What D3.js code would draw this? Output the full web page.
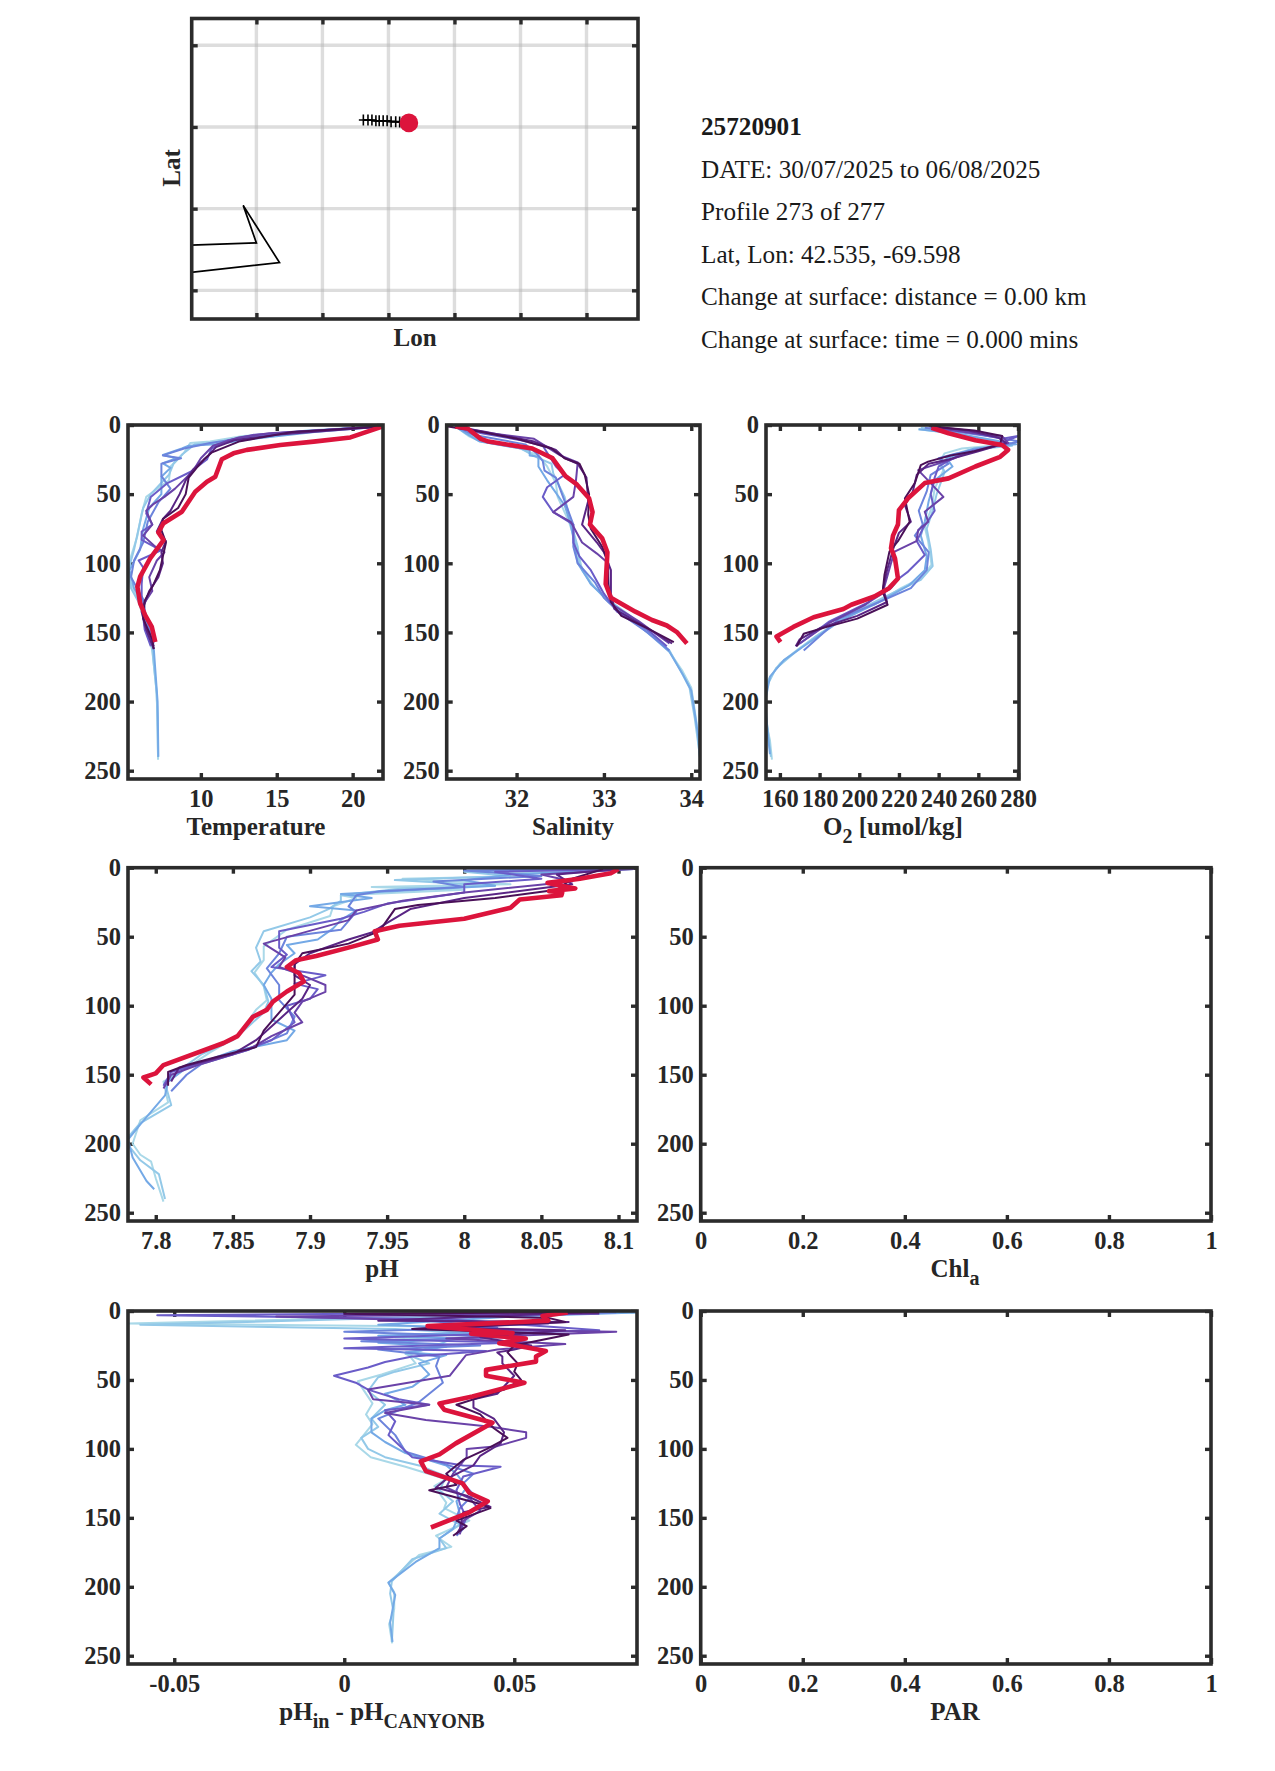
<!DOCTYPE html>
<html>
<head>
<meta charset="UTF-8">
<title>25720901</title>
<style>
    body { margin: 0; background: #fff; }
    text { font-family: "Liberation Serif", serif; }
    .tick text, .label { font-weight: bold; fill: #262626; }
    .tick text { font-size: 24.5px; }
    .label { font-size: 25px; text-anchor: middle; }
    .info { font-size: 25.2px; fill: #1a1a1a; }
</style>
<script src="https://d3js.org/d3.v7.min.js"></script>
</head>
<body>
<script>
// float info
var infoLines = ["25720901", "DATE: 30/07/2025 to 06/08/2025", "Profile 273 of 277", "Lat, Lon: 42.535, -69.598",
    "Change at surface: distance = 0.00 km", "Change at surface: time = 0.000 mins"];

// map
var lonTicks = [-69.829, -69.729, -69.629, -69.529, -69.429, -69.329];
var latTicks = [42.63, 42.53, 42.43, 42.33];
var coastLine = [[-69.94, 42.385], [-69.829, 42.388], [-69.849, 42.434], [-69.794, 42.364], [-69.94, 42.351]];
var trackLon = [-69.667, -69.66, -69.654, -69.648, -69.643, -69.637, -69.631, -69.625, -69.618, -69.612, -69.598];
var trackLat = [42.5385, 42.5385, 42.5385, 42.5375, 42.5375, 42.5375, 42.5375, 42.5365, 42.5365, 42.536, 42.535];
var floatPos = [-69.598, 42.535];

var profileColors = ["#a9d8e8", "#93c9e8", "#74a9e6", "#6c84dc", "#6a5cc8", "#6a42a8", "#5a2585", "#4a1058"];

// each profile is a list of [value, depth], lightest (oldest) first
var tempProfiles = [
    [[21.5,1],[16.5,5],[12.8,8],[10.6,12],[9.3,13],[8.9,20],[8,30],[7.9,40],[6.4,52],[6.1,64],[5.8,81],[5.4,95],[5.2,110],[5.8,124],[6.2,139],[6.8,163],[7.05,189],[7.15,210],[7.18,242]],
    [[21.8,1],[17,4],[13,9],[10.8,13],[9.6,14],[8.8,21],[8.2,28],[7.9,36],[6.7,50],[6.2,60],[5.9,75],[5.6,90],[5.25,104],[5.4,118],[5.9,128],[6.4,142],[6.8,162],[7.1,195],[7.18,240]],
    [[21.9,1],[17.5,5],[13.5,10],[11,14],[9.2,15],[8.75,17],[7.5,21.7],[8.4,24],[7.5,27.7],[8,31],[7.4,37.4],[7.4,50],[6.6,60],[6.2,75],[6,90],[5.3,105],[5.6,118],[6,125],[6.3,140],[6.9,162],[7.15,200],[7.2,240]],
    [[21.5,1],[15,6],[12.5,10],[10.6,13],[8.9,17],[7.5,22],[8.7,24],[7.4,28],[7.4,37],[8,46],[7.2,56],[6.5,70],[6.2,85],[5.6,98],[5.4,110],[6.2,126],[6.4,140],[6.9,158]],
    [[21.7,1],[13.5,7],[11.8,11],[10.7,17],[10.4,25],[9.3,34],[7.8,42],[6.7,52],[6.4,64],[6.8,72],[6.1,77],[6.1,83],[7.1,89],[7.3,91],[5.9,98],[6.2,103],[6.1,115],[6.1,129],[6.3,148],[6.7,160]],
    [[21.9,1],[14.5,6],[12.5,9],[10.8,15],[10,24],[9.5,33],[8.3,46],[7.6,52],[6.9,57],[6.4,62],[6.8,72],[6.2,80],[7,88],[7.6,92],[7.1,98],[6.6,110],[6.8,120],[6.2,130],[6.3,145],[6.9,160]],
    [[22,1],[15,7],[12.2,11],[11,16],[10.5,22],[9.5,32],[9,40],[8.6,50],[8,62],[7.5,68],[7.1,77],[7.7,84],[7.4,92],[7.5,100],[7.2,110],[6.6,120],[6.1,135],[6.4,148],[6.9,162]],
    [[22,1],[16,5],[12.5,12],[10.7,20],[10.2,25],[9.8,30],[9.2,38],[9,50],[8.5,60],[7.5,68],[7.4,76],[7.7,85],[7.5,95],[7.3,105],[6.9,115],[6.3,127],[6.2,140],[6.8,155],[6.9,162]]
];
var tempCurrent = [[22,1],[19.85,9],[17.43,12],[15.23,14.5],[13.03,18],[12.15,20.5],[11.38,24.8],[10.95,37.4],[10.4,41],[9.63,48.2],[8.75,62.7],[7.54,71],[7.2,77.7],[7.54,83.2],[6.66,96.5],[6,109.7],[5.82,117],[6,129],[6.33,137.5],[6.77,146],[7,157]];

var salProfiles = [
    [[31.3,1],[31.45,8],[31.55,11],[32,16],[32.25,22],[32.35,30],[32.45,42],[32.47,52],[32.6,70],[32.7,90],[32.75,105],[32.9,118],[33.05,128],[33.3,140],[33.6,155],[33.75,164],[33.9,178],[34,190],[34.06,215],[34.1,242]],
    [[31.3,1],[31.5,8],[31.6,12],[32.05,17],[32.25,24],[32.4,28],[32.42,35],[32.55,52],[32.62,70],[32.7,88],[32.72,100],[32.85,115],[33.02,125],[33.3,138],[33.55,152],[33.75,163],[33.88,178],[33.98,190],[34.04,212],[34.1,240]],
    [[31.3,1],[31.42,6],[31.58,12],[32.15,18],[32.15,22],[32.25,23],[32.25,30],[32.35,40],[32.55,58],[32.62,72],[32.67,88],[32.7,100],[32.85,115],[33,124],[33.25,137],[33.55,153],[33.75,164],[33.9,180],[34,192],[34.08,225],[34.1,240]],
    [[31.3,1],[31.5,7],[32.1,14],[32.22,20],[32.3,26],[32.32,33],[32.45,38],[32.55,55],[32.65,72],[32.65,88],[32.7,100],[32.9,114],[33,125],[33.2,137],[33.5,150],[33.75,163]],
    [[31.3,1],[31.6,6],[32.05,11],[32.3,15],[32.45,30],[32.55,36],[32.35,45],[32.3,52],[32.42,63],[32.55,68],[32.65,72],[32.65,85],[32.72,95],[32.85,105],[33,122],[33.15,135],[33.5,148],[33.72,160]],
    [[31.3,1],[31.7,6],[32.2,10],[32.35,16],[32.5,22],[32.7,27],[32.68,40],[32.65,52],[32.42,63],[32.62,70],[32.75,85],[32.92,93],[33.05,100],[33.05,118],[33.1,130],[33.4,142],[33.75,158]],
    [[31.3,1],[31.65,5],[32.2,12],[32.45,18],[32.55,24],[32.7,28],[32.8,38],[32.82,55],[32.75,72],[32.92,85],[33,92],[33.08,105],[33.08,122],[33.12,133],[33.45,145],[33.78,158]],
    [[31.2,1],[31.6,5],[32,10],[32.4,17],[32.55,24],[32.72,28],[32.78,36],[32.83,50],[32.82,65],[32.85,75],[32.98,88],[33.04,98],[33.05,115],[33.08,128],[33.2,138],[33.5,147],[33.8,157]]
];
var salCurrent = [[31.3,1],[31.44,2.5],[31.59,10],[31.68,12],[32.18,17],[32.41,24],[32.56,37],[32.69,43],[32.83,53],[32.87,63],[32.84,72],[32.98,82],[33.04,92],[33.02,115],[33.08,125],[33.36,135],[33.55,141],[33.72,145],[33.84,150],[33.95,158]];

var oxyProfiles = [
    [[229.7,3],[241.5,5],[258.5,10],[275.4,14],[251.7,17],[243,20.5],[240,28],[242.4,32.6],[238,46],[236.4,60],[233,73.6],[234.7,84],[236.4,101],[232,110],[221,118],[207.6,130],[199,134],[180,151],[168.5,163],[160,172.5],[154,184.5],[152.4,198],[153,215],[155,228],[156,242]],
    [[231,2],[245,5],[262,10],[277,15],[255,18],[246,22],[241,28],[243,34],[239,50],[237,62],[234,75],[236,90],[237,102],[231,112],[219,120],[205,130],[195,137],[178,153],[168,164],[158,176],[153,190],[152.5,205],[154,222],[155.5,240]],
    [[230,3],[248,6],[268,11],[279,14],[258,17],[244,24],[247,30],[238,40],[235,55],[233,70],[231,80],[234,95],[233,105],[225,116],[210,128],[190,142],[172,160],[162,170],[155,182],[152.6,200],[154,225],[155,238]],
    [[233,2],[250,5],[270,9],[281,12],[262,17],[248,21],[240,24],[245,28],[236,36],[234,48],[230,62],[232,72],[228,80],[235,92],[234,105],[226,118],[210,128],[190,140],[172,163]],
    [[235,1],[255,5],[272,10],[280,8],[268,15],[250,22],[240,30],[238,38],[236,50],[238,62],[232,75],[229,84],[233,94],[224.6,106],[220,111],[216,118],[205,128],[185,142],[170,158]],
    [[238,2],[258,6],[272,8],[275,13],[255,20],[248,24],[229.7,32.6],[236,42],[242.4,52],[233,62.7],[234.8,70],[229.7,76],[228.8,84],[217.8,91.6],[216,100],[214,110],[212,120],[203,130],[185,143],[168,160]],
    [[237,1],[255,4],[270,9],[274,13],[260,19],[245,25],[235,28],[229,36],[227,48],[223,58],[226,70],[220,78],[217,90],[214,105],[212,118],[214,128],[199,138],[180,147],[170,155],[168,160]],
    [[236,1],[258,4],[272,8],[271,14],[258,19],[246,22],[234.7,26.5],[231,29],[228,42],[223,53],[225.4,70],[219.5,84],[215.2,91.6],[212.7,108.5],[211.8,120.6],[214.3,130],[199,140],[183.7,146],[172,151],[168.5,160]]
];
var oxyCurrent = [[236.4,2],[245,6],[258.5,11],[272,14.5],[275,18],[271,23],[258.5,30],[245,38.6],[233,42],[224.6,53],[220,61.5],[219.5,72],[217,80],[216,89],[218,96.5],[219.5,111],[215,118],[207.6,124],[196,130],[192,133],[177,139],[166.8,146],[158.3,153],[160.3,157]];

var phProfiles = [
    [[8.11,1],[8.02,4],[8.05,6],[7.96,8],[8.03,12],[7.94,14],[8,16],[7.92,20],[7.93,22],[7.915,28],[7.913,35],[7.885,45],[7.87,57],[7.87,67],[7.864,76],[7.87,86],[7.872,96],[7.865,103],[7.859,112.6],[7.853,122],[7.835,134],[7.82,145],[7.805,155],[7.808,170],[7.79,183],[7.785,200],[7.79,208],[7.797,213],[7.8,225],[7.805,242]],
    [[8.1,1],[8,3],[8.03,6],[7.955,9],[8.02,13],[7.96,15],[7.92,20],[7.92,24],[7.912,30],[7.9,36],[7.87,46],[7.865,58],[7.868,68],[7.862,75],[7.87,85],[7.873,97],[7.87,105],[7.862,113],[7.85,125],[7.83,135],[7.815,147],[7.806,156],[7.81,172],[7.79,185],[7.78,198],[7.79,212],[7.802,222],[7.806,240]],
    [[8.11,1],[8.03,5],[8,9],[8.02,13],[7.92,19],[7.94,22],[7.9,28],[7.93,31],[7.92,38],[7.915,44],[7.905,52],[7.885,56],[7.89,62],[7.88,70],[7.875,76],[7.87,85],[7.875,95],[7.875,110],[7.89,118],[7.885,125],[7.85,133],[7.82,145],[7.808,155],[7.806,165],[7.79,186],[7.782,197],[7.785,210],[7.794,227],[7.799,233]],
    [[8.1,1],[8,2],[8.05,6],[7.98,10],[8,14],[7.945,17],[7.93,20],[7.925,28],[7.93,32],[7.92,45],[7.885,50],[7.88,62],[7.872,73],[7.88,85],[7.88,96],[7.89,108],[7.885,120],[7.86,132],[7.83,142],[7.82,150],[7.81,162]],
    [[8.1,1],[8.02,3],[8.05,8],[8,12],[8,18],[7.95,26],[7.935,32],[7.92,37],[7.88,46],[7.88,58],[7.885,63],[7.875,72],[7.905,77],[7.91,78],[7.89,84],[7.905,88],[7.9,95],[7.885,100],[7.89,112],[7.875,125],[7.85,135],[7.81,148],[7.805,158]],
    [[8.11,1],[8.05,5],[8.07,10],[8,18],[7.96,24],[7.93,31],[7.925,38],[7.87,55],[7.884,65],[7.88,72],[7.895,78],[7.91,85],[7.91,90],[7.895,97],[7.89,105],[7.895,112],[7.875,122],[7.86,132],[7.83,142],[7.81,150],[7.805,160]],
    [[8.1,1],[8.06,5],[8.07,12],[8,22],[7.965,30],[7.95,40],[7.94,47],[7.925,52],[7.9,62],[7.89,70],[7.89,78],[7.9,85],[7.895,95],[7.885,105],[7.875,115],[7.865,125],[7.85,135],[7.815,145],[7.81,155]],
    [[8.09,1],[8.07,8],[8.06,16],[8.02,22],[7.97,27],[7.955,30],[7.95,38],[7.945,46],[7.925,55],[7.895,62],[7.89,70],[7.89,82],[7.89,92],[7.88,105],[7.87,118],[7.865,130],[7.84,137],[7.82,143],[7.808,148],[7.808,158]]
];
var phCurrent = [[8.1,1],[8.095,4],[8.075,8],[8.054,11],[8.072,15],[8.055,17],[8.0635,18],[8.063,20],[8.036,23],[8.03,29],[8,37],[7.958,42],[7.942,46],[7.944,52],[7.928,57],[7.904,64],[7.891,67],[7.885,72],[7.893,76.5],[7.896,82.5],[7.885,89.7],[7.876,97],[7.872,103],[7.863,108],[7.858,115],[7.853,122],[7.844,127],[7.805,143],[7.8,149],[7.792,152],[7.797,157]];

var dphProfiles = [
    [[0.086,1],[0.04,3],[-0.064,9],[0.02,11],[0.05,15],[0.015,19],[0.03,22],[0.019,32],[0.021,38],[0.011,46],[0.004,51],[0.0083,67],[0.0064,75],[0.0083,82],[0.0034,97],[0.0078,106],[0.018,113],[0.03,122],[0.0265,127],[0.03,139],[0.0294,143],[0.0368,152],[0.027,163],[0.0285,166],[0.0315,171],[0.022,177],[0.013,197],[0.0147,204],[0.0147,216],[0.0132,227],[0.0141,241]],
    [[0.08,1],[0.03,4],[-0.06,10],[0.015,13],[0.045,17],[0.03,21],[0.028,26],[0.018,31],[0.025,38],[0.015,44],[0.01,48],[0.007,58],[0.012,68],[0.008,78],[0.01,84],[0.005,92],[0.007,100],[0.012,106],[0.022,112],[0.03,120],[0.028,130],[0.032,138],[0.028,147],[0.034,155],[0.028,165],[0.03,172],[0.02,180],[0.014,196],[0.0135,205],[0.0145,218],[0.014,240]],
    [[0.086,1],[0.05,4],[0.01,10],[0.055,14],[0.01,18],[0.035,20],[0.01,23],[0.03,26],[0.018,30],[0.03,32],[0.022,38],[0.025,46],[0.02,55],[0.012,60],[0.018,68],[0.012,72],[0.008,78],[0.008,88],[0.012,95],[0.018,103],[0.03,112],[0.033,118],[0.036,128],[0.033,138],[0.034,147],[0.032,158],[0.028,165],[0.028,172],[0.021,182],[0.013,197],[0.015,206],[0.0135,226],[0.0142,240]],
    [[0.08,1],[0.02,6],[0.045,12],[0,15],[0.05,19],[0.005,22],[0.04,25],[0.01,28],[0.028,33],[0.027,40],[0.029,52],[0.024,62],[0.022,66],[0.01,78],[0.015,90],[0.018,102],[0.026,108],[0.038,118],[0.035,125],[0.038,133],[0.034,143],[0.033,150],[0.035,158],[0.033,163]],
    [[0.07,1],[-0.055,3],[0.03,6],[0.075,14],[0,20],[0.05,23],[0,27],[0.0417,29],[0.02,33],[0.012,37],[0.007,41],[-0.003,47],[0.0034,52],[0.007,57],[0.016,64],[0.025,68],[0.012,72],[0.015,80],[0.013,90],[0.016,97],[0.02,106],[0.035,112],[0.046,113],[0.035,120],[0.033,130],[0.034,140],[0.036,150],[0.034,160]],
    [[0.075,2],[-0.02,4],[0.06,9],[0.02,13],[0.08,15],[0.03,20],[0.065,24],[0.045,28],[0.0358,32],[0.031,47],[0.007,57],[0.0085,64],[0.025,68],[0.012,74],[0.024,79],[0.043,84],[0.0535,88],[0.0535,92],[0.045,98],[0.036,100],[0.036,106],[0.032,118],[0.03,128],[0.037,136],[0.04,145],[0.035,152],[0.034,162]],
    [[0.07,1],[0.05,3],[0.01,7],[0.066,8],[0.03,12],[0.065,14],[0.04,19],[0.055,25],[0.05,28],[0.045,30],[0.0465,33],[0.0465,38],[0.05,47],[0.048,52],[0.045,60],[0.038,64],[0.038,70],[0.044,78],[0.047,88],[0.046,96],[0.04,105],[0.038,112],[0.03,122],[0.027,128],[0.036,134],[0.043,142],[0.035,146],[0.034,158],[0.033,162]],
    [[0.075,1],[0,2],[0.06,5],[0.065,8],[0.02,13],[0.066,17],[0.05,25],[0.048,30],[0.051,38],[0.05,44],[0.052,50],[0.047,57],[0.033,68],[0.04,75],[0.044,85],[0.048,92],[0.042,100],[0.035,108],[0.03,118],[0.033,126],[0.025,130],[0.04,140],[0.043,143],[0.033,152],[0.036,156],[0.032,163]]
];
var dphCurrent = [[0.0657,1],[0.0583,3.6],[0.06,7],[0.0245,11],[0.0397,14],[0.0495,16],[0.0373,16.5],[0.0534,20],[0.0456,23.4],[0.0505,25],[0.0593,29],[0.0564,33],[0.0564,36.7],[0.0417,42.7],[0.0417,47],[0.053,52],[0.0377,62],[0.028,67],[0.0294,71.6],[0.0436,81],[0.0328,96],[0.028,104],[0.0225,109],[0.024,116],[0.0348,125],[0.0368,132],[0.0422,138],[0.0368,146],[0.0255,157]];

// axis ranges and ticks
var depthMax = 256;
var depthTicks = [0, 50, 100, 150, 200, 250];
var tempDomain = [5.2, 22], tempTicks = [10, 15, 20];
var salDomain = [31.2, 34.1], salTicks = [32, 33, 34];
var oxyDomain = [153, 280.5], oxyTicks = [160, 180, 200, 220, 240, 260, 280];
var phDomain = [7.782, 8.112], phTicks = [7.8, 7.85, 7.9, 7.95, 8, 8.05, 8.1];
var dphDomain = [-0.0636, 0.0861], dphTicks = [-0.05, 0, 0.05];
var emptyDomain = [0, 1], emptyTicks = [0, 0.2, 0.4, 0.6, 0.8, 1];

var axisColor = "#2b2b2b", currentColor = "#dc143c";

var svg = d3.select("body").append("svg")
    .attr("width", 1275)
    .attr("height", 1771);

var clipCount = 0;

// box with inward ticks on all sides
function makeBox(box, x, y, xTicks, yTicks, xFormat, yFormat) {
    var g = svg.append("g");
    var w = box.right - box.left, h = box.bottom - box.top;

    var id = "clip" + (clipCount++);
    svg.append("clipPath").attr("id", id).append("rect")
        .attr("x", box.left).attr("y", box.top).attr("width", w).attr("height", h);

    g.append("g").attr("transform", "translate(0," + box.bottom + ")")
        .call(d3.axisBottom(x).tickValues(xTicks).tickSize(-6).tickPadding(11).tickFormat(xFormat));
    g.append("g").attr("transform", "translate(0," + box.top + ")")
        .call(d3.axisTop(x).tickValues(xTicks).tickSize(-6).tickFormat(""));
    g.append("g").attr("transform", "translate(" + box.left + ",0)")
        .call(d3.axisLeft(y).tickValues(yTicks).tickSize(-6).tickPadding(7).tickFormat(yFormat));
    g.append("g").attr("transform", "translate(" + box.right + ",0)")
        .call(d3.axisRight(y).tickValues(yTicks).tickSize(-6).tickFormat(""));

    g.selectAll(".domain").remove();
    g.selectAll(".tick line").attr("stroke", axisColor).attr("stroke-width", 3.4);

    return {g: g, clip: id, box: box};
}

function drawFrame(box) {
    svg.append("rect")
        .attr("x", box.left).attr("y", box.top)
        .attr("width", box.right - box.left).attr("height", box.bottom - box.top)
        .attr("fill", "none").attr("stroke", axisColor).attr("stroke-width", 3.6);
}

function profilePanel(box, domain, xTicks, profiles, current) {
    var x = d3.scaleLinear().domain(domain).range([box.left, box.right]);
    var y = d3.scaleLinear().domain([0, depthMax]).range([box.top, box.bottom]);
    var p = makeBox(box, x, y, xTicks, depthTicks, function(d) { return d; }, function(d) { return d; });

    var line = d3.line()
        .x(function(d) { return x(d[0]); })
        .y(function(d) { return y(d[1]); });

    var lines = svg.append("g").attr("clip-path", "url(#" + p.clip + ")");

    lines.selectAll(".profile")
        .data(profiles)
        .enter().append("path")
            .attr("class", "profile")
            .attr("d", line)
            .attr("fill", "none")
            .attr("stroke", function(d, i) { return profileColors[i]; })
            .attr("stroke-width", 2)
            .attr("stroke-linejoin", "round");

    if (current) {
        lines.append("path")
            .attr("d", line(current))
            .attr("fill", "none")
            .attr("stroke", currentColor)
            .attr("stroke-width", 4.6)
            .attr("stroke-linejoin", "round");
    }
    drawFrame(box);
}

function addLabel(x, y, parts) {
    // parts: plain strings, or [string] for a subscript
    var t = svg.append("text").attr("class", "label").attr("x", x).attr("y", y);
    var low = false;
    parts.forEach(function(part) {
        var sub = Array.isArray(part);
        t.append("tspan")
            .attr("dy", sub === low ? 0 : (sub ? 8 : -8))
            .style("font-size", sub ? "20px" : null)
            .text(sub ? part[0] : part);
        low = sub;
    });
}

// map panel
var mapBox = {left: 191.7, right: 638, top: 18.5, bottom: 319};
var mapX = d3.scaleLinear().domain([-69.927, -69.251]).range([mapBox.left, mapBox.right]);
var mapY = d3.scaleLinear().domain([42.6628, 42.2949]).range([mapBox.top, mapBox.bottom]);

var gridG = svg.append("g");
gridG.selectAll(".vgrid").data(lonTicks).enter().append("line")
    .attr("x1", function(d) { return mapX(d); }).attr("x2", function(d) { return mapX(d); })
    .attr("y1", mapBox.top).attr("y2", mapBox.bottom);
gridG.selectAll(".hgrid").data(latTicks).enter().append("line")
    .attr("y1", function(d) { return mapY(d); }).attr("y2", function(d) { return mapY(d); })
    .attr("x1", mapBox.left).attr("x2", mapBox.right);
gridG.selectAll("line").attr("stroke", "#b4b4b4").attr("stroke-opacity", 0.45).attr("stroke-width", 3.4);

var mapAxes = makeBox(mapBox, mapX, mapY, lonTicks, latTicks, function() { return ""; }, function() { return ""; });

var mapLine = d3.line()
    .x(function(d) { return mapX(d[0]); })
    .y(function(d) { return mapY(d[1]); });

var mapG = svg.append("g").attr("clip-path", "url(#" + mapAxes.clip + ")");
mapG.append("path")
    .attr("d", mapLine(coastLine))
    .attr("fill", "none")
    .attr("stroke", "#000")
    .attr("stroke-width", 1.7);

var track = trackLon.map(function(d, i) { return [d, trackLat[i]]; });
mapG.append("path")
    .attr("d", mapLine(track))
    .attr("fill", "none")
    .attr("stroke", "#000")
    .attr("stroke-width", 1.7);
mapG.selectAll(".plus")
    .data(track)
    .enter().append("path")
        .attr("class", "plus")
        .attr("d", function(d) {
            var px = mapX(d[0]), py = mapY(d[1]);
            return "M" + (px - 4.5) + "," + py + "L" + (px + 4.5) + "," + py + "M" + px + "," + (py - 5.5) + "L" + px + "," + (py + 5.5);
        })
        .attr("stroke", "#000")
        .attr("stroke-width", 1.6);
mapG.append("circle")
    .attr("cx", mapX(floatPos[0]))
    .attr("cy", mapY(floatPos[1]))
    .attr("r", 9.3)
    .attr("fill", currentColor);
drawFrame(mapBox);

addLabel(415, 346, ["Lon"]);
svg.append("text").attr("class", "label")
    .attr("transform", "translate(180,168) rotate(-90)")
    .text("Lat");

// text block
svg.selectAll(".info")
    .data(infoLines)
    .enter().append("text")
        .attr("class", "info")
        .attr("x", 701)
        .attr("y", function(d, i) { return 135 + i * 42.6; })
        .style("font-weight", function(d, i) { return i === 0 ? "bold" : "normal"; })
        .text(function(d) { return d; });

// profile panels
profilePanel({left: 128, right: 383, top: 425, bottom: 779}, tempDomain, tempTicks, tempProfiles, tempCurrent);
addLabel(256, 835, ["Temperature"]);

profilePanel({left: 446.7, right: 700, top: 425, bottom: 779}, salDomain, salTicks, salProfiles, salCurrent);
addLabel(573, 835, ["Salinity"]);

profilePanel({left: 766, right: 1019, top: 425, bottom: 779}, oxyDomain, oxyTicks, oxyProfiles, oxyCurrent);
addLabel(893, 835, ["O", ["2"], " [umol/kg]"]);

profilePanel({left: 128, right: 637, top: 867.7, bottom: 1221}, phDomain, phTicks, phProfiles, phCurrent);
addLabel(382, 1277, ["pH"]);

profilePanel({left: 700.7, right: 1211, top: 867.7, bottom: 1221}, emptyDomain, emptyTicks, [], null);
addLabel(955, 1277, ["Chl", ["a"]]);

profilePanel({left: 128, right: 637, top: 1311, bottom: 1664}, dphDomain, dphTicks, dphProfiles, dphCurrent);
addLabel(382, 1720, ["pH", ["in"], " - pH", ["CANYONB"]]);

profilePanel({left: 700.7, right: 1211, top: 1311, bottom: 1664}, emptyDomain, emptyTicks, [], null);
addLabel(955, 1720, ["PAR"]);
</script>
</body>
</html>
